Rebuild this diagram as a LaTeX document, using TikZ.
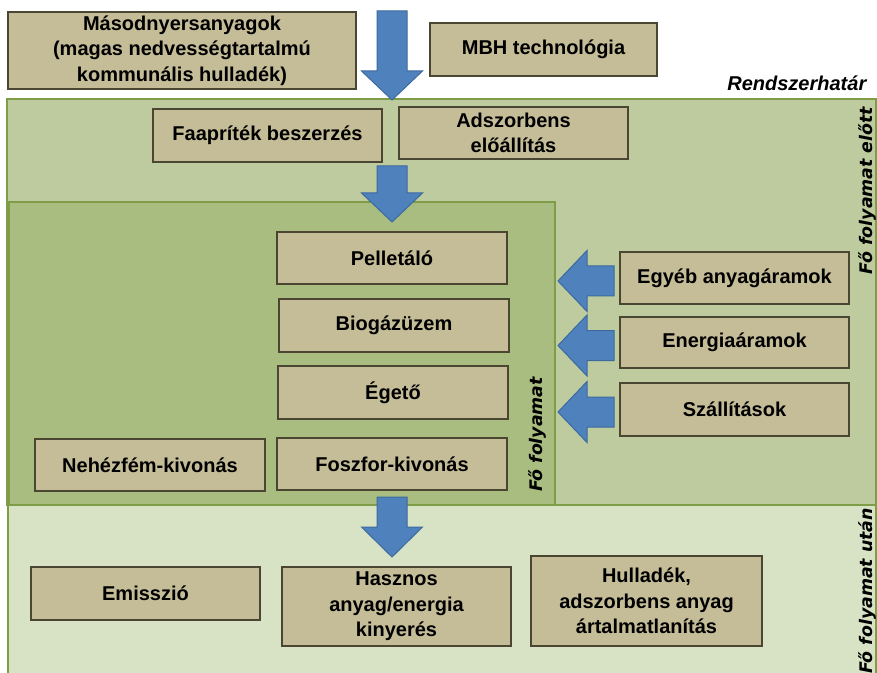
\documentclass[tikz,border=0pt]{standalone}
\usepackage{fontspec}
\setmainfont{Liberation Sans}
\newfontfamily\labelfont{DejaVu Sans}
\usepackage{xcolor}
\usepackage{tikz}
\definecolor{boxfill}{HTML}{C4BD97}
\definecolor{boxline}{HTML}{4A4632}
\definecolor{preregion}{HTML}{BDCB9E}
\definecolor{mainregion}{HTML}{A9BD80}
\definecolor{postregion}{HTML}{D8E2C5}
\definecolor{regionline}{HTML}{7E9D46}
\definecolor{arrowfill}{HTML}{4F81BD}
\definecolor{arrowline}{HTML}{3C6A9E}

\begin{document}
\begin{tikzpicture}[
    x=0.75pt, y=-0.75pt,
    region/.style={draw=regionline, line width=1.5pt},
    stage/.style={draw=boxline, fill=boxfill, line width=1.5pt, align=center, inner sep=0pt,
        font=\bfseries\fontsize{15}{19}\selectfont, minimum width=172.5pt, minimum height=39pt},
    blockarrow/.style={draw=arrowline, fill=arrowfill, line width=0.75pt, line join=miter},
    sidelabel/.style={rotate=90, font=\labelfont\bfseries\itshape\fontsize{13}{15}\selectfont}
]
    \useasboundingbox (0,0) rectangle (877,673);

    % regions
    \fill[white] (0,0) rectangle (877,673);
    \draw[region, fill=preregion] (7,99) rectangle (876,505);
    \draw[region, fill=postregion] (8,505) rectangle (876,690);
    \draw[region, fill=mainregion] (9,202) rectangle (555,505);

    \node[anchor=base east, font=\bfseries\itshape\fontsize{15}{18}\selectfont] (border) at (871,91) {Rendszerhatár};
    \node[sidelabel] (before) at (867,190.5) {Fő folyamat előtt};
    \node[sidelabel] (main) at (537,434.5) {Fő folyamat};
    \node[sidelabel] (after) at (867,591) {Fő folyamat után};

    % inputs
    \node[stage, minimum width=261pt, minimum height=57.75pt] (waste) at (182,50.5)
        {Másodnyersanyagok\\(magas nedvességtartalmú\\kommunális hulladék)};
    \node[stage, minimum width=170.25pt, minimum height=39.75pt] (mbh) at (543.5,49.5) {MBH technológia};
    \filldraw[blockarrow] (377,11) -- (407,11) -- (407,71) -- (422.5,71) -- (392,100) -- (361.5,71) -- (377,71) -- cycle;

    % before the main process
    \node[stage, minimum width=171.75pt, minimum height=39.75pt] (chips) at (267.5,135.5) {Faapríték beszerzés};
    \node[stage, minimum width=171.75pt] (sorbent) at (513.5,133) {Adszorbens\\előállítás};
    \filldraw[blockarrow] (377,166) -- (407,166) -- (407,193) -- (422.5,193) -- (392,222) -- (361.5,193) -- (377,193) -- cycle;

    % main process
    \node[stage] (pellet) at (392,258.5) {Pelletáló};
    \node[stage, minimum height=39.75pt] (biogas) at (394,325.5) {Biogázüzem};
    \node[stage, minimum height=39.75pt] (burner) at (393,392.5) {Égető};
    \node[stage] (metal) at (150,465) {Nehézfém-kivonás};
    \node[stage] (phosphor) at (392,464) {Foszfor-kivonás};

    % side flows
    \node[stage, minimum width=171.75pt] (other) at (734.5,278) {Egyéb anyagáramok};
    \node[stage, minimum width=171.75pt, minimum height=38.25pt] (energy) at (734.5,342.5) {Energiaáramok};
    \node[stage, minimum width=171.75pt, minimum height=39.75pt] (transport) at (734.5,409.5) {Szállítások};
    \filldraw[blockarrow] (614,266) -- (587,266) -- (587,250.5) -- (558,281) -- (587,311.5) -- (587,296) -- (614,296) -- cycle;
    \filldraw[blockarrow] (614,330.5) -- (587,330.5) -- (587,315) -- (558,345.5) -- (587,376) -- (587,360.5) -- (614,360.5) -- cycle;
    \filldraw[blockarrow] (614,397) -- (587,397) -- (587,381.5) -- (558,412) -- (587,442.5) -- (587,427) -- (614,427) -- cycle;

    % after the main process
    \filldraw[blockarrow] (377,497) -- (407,497) -- (407,527) -- (422.5,527) -- (392,557) -- (361.5,527) -- (377,527) -- cycle;
    \node[stage, minimum width=171.75pt, minimum height=39.75pt] (emission) at (145.5,593.5) {Emisszió};
    \node[stage, minimum width=171.75pt, minimum height=59.25pt] (recovery) at (396.5,606.5) {Hasznos\\anyag/energia\\kinyerés};
    \node[stage, minimum width=173.25pt, minimum height=67.5pt] (disposal) at (646.5,601) {Hulladék,\\adszorbens anyag\\ártalmatlanítás};
\end{tikzpicture}
\end{document}
